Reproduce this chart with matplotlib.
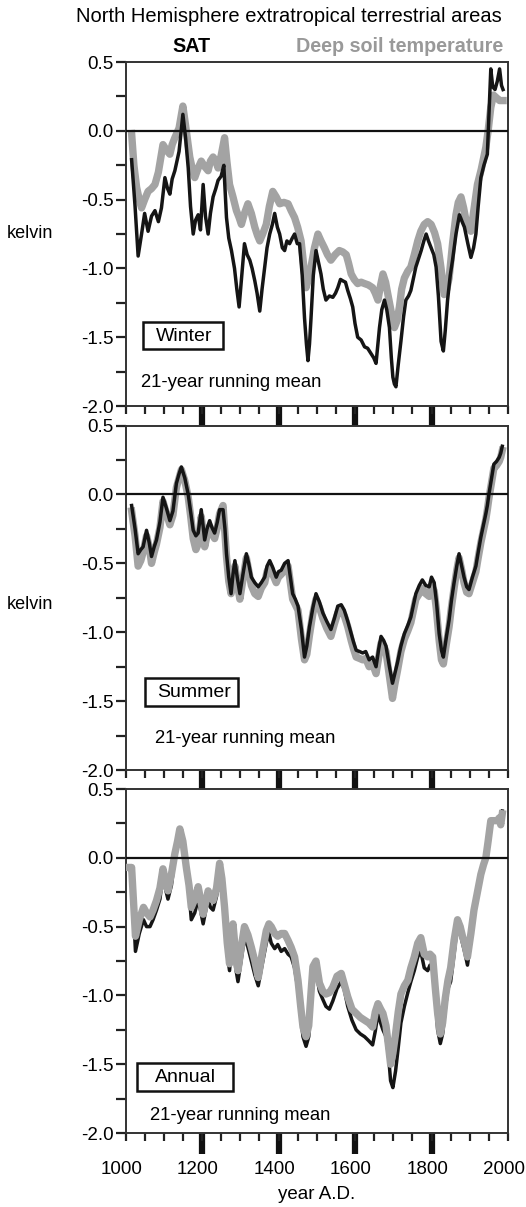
import matplotlib
matplotlib.use('Agg')
import matplotlib.pyplot as plt
import matplotlib.transforms as mtransforms
from matplotlib.patches import Rectangle
import numpy as np

plt.rcParams['font.family'] = ['Liberation Sans', 'DejaVu Sans']
plt.rcParams['axes.unicode_minus'] = False

# ---------------- Winter ----------------
win_sat_yr = [1016, 1025, 1033, 1042, 1050, 1059, 1068, 1077, 1086, 1094, 1103, 1110, 1116, 1122, 1129,
              1140, 1150, 1157, 1164, 1170, 1177, 1183, 1190, 1196, 1203, 1209, 1216, 1222, 1229, 1236,
              1242, 1250, 1257, 1264, 1270, 1277, 1285, 1291, 1297, 1304, 1311, 1318, 1325, 1331, 1338,
              1344, 1351, 1357, 1364, 1370, 1377, 1384, 1390, 1397, 1403, 1410, 1416, 1422, 1429, 1436,
              1442, 1449, 1455, 1462, 1468, 1473, 1477, 1481, 1485, 1491, 1498, 1504, 1511, 1517, 1524,
              1533, 1542, 1549, 1555, 1562, 1568, 1575, 1581, 1588, 1594, 1600, 1607, 1616, 1625, 1633,
              1642, 1649, 1655, 1660, 1664, 1670, 1677, 1683, 1690, 1695, 1699, 1703, 1707, 1713, 1720,
              1727, 1733, 1740, 1746, 1752, 1759, 1766, 1773, 1780, 1786, 1792, 1799, 1806, 1812, 1818,
              1825, 1831, 1836, 1842, 1849, 1855, 1864, 1873, 1880, 1886, 1895, 1903, 1910, 1916, 1922,
              1929, 1937, 1946, 1950, 1955, 1960, 1966, 1972, 1978, 1983, 1987]
win_sat = [-0.21, -0.55, -0.91, -0.75, -0.60, -0.73, -0.62, -0.58, -0.66, -0.56, -0.34, -0.42, -0.46, -0.35, -0.29,
           -0.15, 0.12, -0.05, -0.27, -0.55, -0.75, -0.65, -0.61, -0.72, -0.39, -0.62, -0.75, -0.60, -0.48, -0.42,
           -0.36, -0.33, -0.25, -0.63, -0.78, -0.87, -1.00, -1.15, -1.28, -1.05, -0.82, -0.90, -0.94, -1.00, -1.09,
           -1.18, -1.31, -1.15, -0.99, -0.85, -0.75, -0.68, -0.60, -0.70, -0.75, -0.85, -0.87, -0.80, -0.82, -0.78,
           -0.75, -0.82, -0.82, -1.05, -1.36, -1.55, -1.67, -1.55, -1.36, -1.05, -0.87, -0.95, -1.04, -1.15, -1.23,
           -1.20, -1.21, -1.18, -1.14, -1.08, -1.09, -1.10, -1.16, -1.22, -1.28, -1.40, -1.50, -1.52, -1.57, -1.58,
           -1.62, -1.65, -1.69, -1.55, -1.43, -1.30, -1.23, -1.30, -1.43, -1.65, -1.79, -1.84, -1.86, -1.70, -1.53,
           -1.35, -1.23, -1.20, -1.16, -1.08, -0.99, -0.93, -0.87, -0.80, -0.75, -0.80, -0.85, -0.90, -0.99, -1.20,
           -1.53, -1.60, -1.45, -1.23, -1.05, -0.94, -0.75, -0.61, -0.66, -0.70, -0.82, -0.92, -0.85, -0.75, -0.55,
           -0.34, -0.25, -0.17, 0.10, 0.45, 0.32, 0.30, 0.36, 0.45, 0.33, 0.30]

win_soil_yr = [1016, 1022, 1029, 1036, 1042, 1050, 1059, 1068, 1077, 1086, 1098, 1107, 1116, 1122, 1129,
               1140, 1150, 1158, 1168, 1175, 1181, 1190, 1198, 1207, 1216, 1222, 1229, 1236, 1242, 1250,
               1259, 1265, 1272, 1281, 1290, 1297, 1303, 1311, 1320, 1329, 1338, 1345, 1351, 1360, 1368,
               1376, 1385, 1394, 1403, 1414, 1425, 1433, 1442, 1450, 1459, 1466, 1472, 1478, 1485, 1494,
               1503, 1511, 1520, 1528, 1537, 1548, 1559, 1568, 1577, 1583, 1590, 1598, 1607, 1616, 1625,
               1635, 1646, 1653, 1660, 1667, 1673, 1680, 1686, 1695, 1703, 1710, 1716, 1722, 1729, 1738,
               1746, 1755, 1764, 1772, 1781, 1790, 1799, 1808, 1816, 1825, 1833, 1840, 1846, 1855, 1864,
               1870, 1877, 1884, 1890, 1897, 1903, 1912, 1920, 1930, 1942, 1948, 1955, 1962, 1970, 1978, 1987]
win_soil = [-0.02, -0.25, -0.41, -0.50, -0.56, -0.50, -0.44, -0.42, -0.39, -0.30, -0.10, -0.14, -0.17, -0.10, -0.05,
            0.02, 0.18, 0.02, -0.19, -0.28, -0.34, -0.27, -0.22, -0.26, -0.29, -0.22, -0.19, -0.22, -0.27, -0.18,
            -0.05, -0.22, -0.39, -0.48, -0.58, -0.63, -0.68, -0.60, -0.53, -0.60, -0.70, -0.76, -0.80, -0.74, -0.68,
            -0.55, -0.44, -0.48, -0.53, -0.52, -0.53, -0.58, -0.63, -0.70, -0.80, -0.98, -1.14, -1.08, -0.99, -0.85,
            -0.75, -0.80, -0.85, -0.90, -0.94, -0.90, -0.87, -0.88, -0.90, -0.96, -1.04, -1.08, -1.11, -1.10, -1.11,
            -1.12, -1.14, -1.18, -1.23, -1.12, -1.04, -1.10, -1.19, -1.32, -1.43, -1.38, -1.28, -1.15, -1.07, -1.02,
            -0.99, -0.90, -0.80, -0.73, -0.68, -0.66, -0.68, -0.74, -0.82, -1.00, -1.19, -1.15, -1.07, -0.82, -0.61,
            -0.52, -0.48, -0.56, -0.65, -0.70, -0.73, -0.55, -0.39, -0.28, -0.12, 0.00, 0.17, 0.26, 0.24, 0.22, 0.22]

# ---------------- Summer ----------------
sum_sat_yr = [1016, 1025, 1033, 1040, 1046, 1055, 1062, 1068, 1075, 1081, 1090, 1098, 1107, 1116, 1124,
              1133, 1140, 1146, 1155, 1164, 1170, 1177, 1184, 1190, 1198, 1207, 1213, 1220, 1226, 1233,
              1240, 1246, 1255, 1260, 1264, 1270, 1276, 1281, 1286, 1292, 1299, 1307, 1316, 1322, 1329,
              1338, 1347, 1355, 1364, 1370, 1377, 1385, 1394, 1400, 1407, 1416, 1425, 1431, 1437, 1444,
              1451, 1460, 1468, 1474, 1481, 1490, 1498, 1507, 1516, 1526, 1537, 1546, 1555, 1564, 1572,
              1581, 1590, 1596, 1603, 1612, 1620, 1628, 1637, 1646, 1655, 1662, 1668, 1675, 1681, 1690,
              1698, 1704, 1711, 1720, 1729, 1738, 1746, 1753, 1759, 1768, 1776, 1785, 1794, 1800, 1807,
              1813, 1820, 1826, 1831, 1838, 1846, 1852, 1859, 1866, 1872, 1879, 1885, 1892, 1898, 1907,
              1916, 1922, 1929, 1936, 1942, 1946, 1950, 1957, 1963, 1970, 1977, 1981, 1985]
sum_sat = [-0.08, -0.25, -0.43, -0.40, -0.38, -0.26, -0.35, -0.45, -0.38, -0.33, -0.20, -0.02, -0.10, -0.19, -0.12,
           0.08, 0.15, 0.20, 0.12, 0.00, -0.12, -0.26, -0.30, -0.28, -0.11, -0.33, -0.25, -0.19, -0.24, -0.28,
           -0.20, -0.11, -0.11, -0.25, -0.43, -0.60, -0.72, -0.58, -0.48, -0.60, -0.72, -0.58, -0.43, -0.50, -0.60,
           -0.64, -0.67, -0.64, -0.60, -0.52, -0.48, -0.53, -0.60, -0.56, -0.55, -0.50, -0.48, -0.60, -0.72, -0.76,
           -0.81, -0.98, -1.18, -1.10, -0.96, -0.82, -0.72, -0.78, -0.86, -0.92, -0.98, -0.90, -0.81, -0.80, -0.84,
           -0.92, -1.01, -1.07, -1.13, -1.14, -1.15, -1.14, -1.20, -1.18, -1.25, -1.12, -1.03, -1.06, -1.10, -1.25,
           -1.37, -1.30, -1.22, -1.10, -1.01, -0.95, -0.89, -0.80, -0.72, -0.66, -0.62, -0.66, -0.67, -0.60, -0.64,
           -0.78, -1.01, -1.13, -1.18, -1.05, -0.91, -0.77, -0.64, -0.52, -0.43, -0.52, -0.60, -0.67, -0.69, -0.60,
           -0.52, -0.42, -0.31, -0.22, -0.14, -0.08, 0.00, 0.12, 0.22, 0.24, 0.27, 0.30, 0.35]

sum_soil_yr = [1016, 1025, 1033, 1040, 1046, 1055, 1062, 1068, 1075, 1081, 1090, 1098, 1107, 1116, 1124,
               1133, 1140, 1146, 1155, 1164, 1170, 1177, 1184, 1190, 1198, 1207, 1213, 1220, 1226, 1233,
               1240, 1246, 1255, 1260, 1264, 1270, 1276, 1281, 1286, 1292, 1299, 1307, 1316, 1322, 1329,
               1338, 1347, 1355, 1364, 1370, 1377, 1385, 1394, 1400, 1407, 1416, 1425, 1431, 1437, 1444,
               1451, 1460, 1468, 1474, 1481, 1490, 1498, 1507, 1516, 1526, 1537, 1546, 1555, 1564, 1572,
               1581, 1590, 1596, 1603, 1612, 1620, 1628, 1637, 1646, 1655, 1662, 1668, 1675, 1681, 1690,
               1698, 1704, 1711, 1720, 1729, 1738, 1746, 1753, 1759, 1768, 1776, 1785, 1794, 1800, 1807,
               1813, 1820, 1826, 1831, 1838, 1846, 1852, 1859, 1866, 1872, 1879, 1885, 1892, 1898, 1907,
               1916, 1922, 1929, 1936, 1942, 1946, 1950, 1957, 1963, 1970, 1977, 1981, 1985]
sum_soil = [-0.12, -0.30, -0.52, -0.48, -0.42, -0.30, -0.38, -0.50, -0.42, -0.36, -0.24, -0.05, -0.14, -0.22, -0.15,
            0.05, 0.12, 0.18, 0.10, -0.02, -0.15, -0.32, -0.40, -0.36, -0.16, -0.38, -0.30, -0.23, -0.28, -0.32,
            -0.24, -0.14, -0.08, -0.28, -0.45, -0.63, -0.72, -0.62, -0.52, -0.64, -0.76, -0.62, -0.46, -0.55, -0.66,
            -0.72, -0.74, -0.68, -0.64, -0.56, -0.52, -0.58, -0.64, -0.60, -0.58, -0.55, -0.52, -0.64, -0.76, -0.80,
            -0.84, -1.05, -1.20, -1.16, -1.02, -0.86, -0.76, -0.82, -0.90, -0.97, -1.03, -0.94, -0.86, -0.84, -0.88,
            -0.96, -1.06, -1.12, -1.18, -1.19, -1.20, -1.19, -1.25, -1.23, -1.30, -1.18, -1.08, -1.10, -1.14, -1.32,
            -1.48, -1.38, -1.28, -1.14, -1.05, -0.99, -0.93, -0.84, -0.76, -0.72, -0.68, -0.72, -0.74, -0.66, -0.70,
            -0.84, -1.06, -1.20, -1.23, -1.10, -0.96, -0.82, -0.68, -0.55, -0.46, -0.55, -0.64, -0.71, -0.72, -0.64,
            -0.56, -0.46, -0.35, -0.26, -0.18, -0.11, -0.03, 0.09, 0.19, 0.21, 0.24, 0.27, 0.32]

# ---------------- Annual ----------------
ann_sat_yr = [1016, 1026, 1036, 1047, 1055, 1064, 1072, 1081, 1090, 1098, 1104, 1111, 1120, 1129, 1136,
              1142, 1150, 1159, 1166, 1172, 1181, 1190, 1196, 1203, 1210, 1216, 1222, 1229, 1238, 1246,
              1252, 1259, 1266, 1272, 1277, 1281, 1288, 1294, 1302, 1311, 1320, 1329, 1338, 1347, 1357,
              1368, 1375, 1381, 1390, 1398, 1407, 1416, 1425, 1433, 1442, 1451, 1458, 1464, 1472, 1479,
              1485, 1490, 1498, 1507, 1516, 1524, 1533, 1542, 1553, 1564, 1572, 1581, 1592, 1603, 1614,
              1625, 1636, 1646, 1653, 1660, 1667, 1673, 1681, 1688, 1693, 1699, 1706, 1713, 1720, 1729,
              1738, 1746, 1755, 1764, 1772, 1781, 1790, 1796, 1803, 1810, 1816, 1823, 1829, 1836, 1843,
              1850, 1859, 1868, 1875, 1881, 1888, 1894, 1903, 1911, 1920, 1929, 1936, 1942, 1948, 1955,
              1963, 1972, 1977, 1981, 1985]
ann_sat = [-0.10, -0.68, -0.55, -0.45, -0.50, -0.50, -0.45, -0.38, -0.30, -0.12, -0.22, -0.30, -0.20, 0.00, 0.10,
           0.19, 0.10, -0.10, -0.25, -0.45, -0.40, -0.30, -0.38, -0.48, -0.38, -0.30, -0.36, -0.38, -0.28, -0.10,
           -0.20, -0.42, -0.70, -0.82, -0.65, -0.55, -0.80, -0.90, -0.75, -0.58, -0.65, -0.75, -0.85, -0.93, -0.78,
           -0.62, -0.55, -0.62, -0.66, -0.63, -0.68, -0.66, -0.70, -0.72, -0.80, -0.96, -1.15, -1.30, -1.37, -1.30,
           -1.05, -0.86, -0.82, -0.97, -1.03, -1.08, -1.10, -1.04, -0.95, -0.90, -0.96, -1.08, -1.18, -1.25, -1.28,
           -1.30, -1.33, -1.36, -1.26, -1.13, -1.20, -1.25, -1.30, -1.45, -1.62, -1.67, -1.55, -1.38, -1.20, -1.08,
           -0.98, -0.90, -0.82, -0.72, -0.68, -0.80, -0.82, -0.78, -0.82, -1.00, -1.25, -1.35, -1.28, -1.10, -0.95,
           -0.90, -0.70, -0.48, -0.55, -0.62, -0.70, -0.78, -0.60, -0.42, -0.28, -0.12, -0.05, 0.00, 0.12, 0.25,
           0.28, 0.26, 0.30, 0.27, 0.34]

ann_soil_yr = [1008, 1016, 1026, 1036, 1047, 1055, 1064, 1072, 1081, 1090, 1098, 1104, 1111, 1120, 1129,
               1136, 1142, 1150, 1159, 1166, 1172, 1181, 1190, 1196, 1203, 1210, 1216, 1222, 1229, 1238,
               1246, 1252, 1259, 1266, 1272, 1277, 1281, 1288, 1294, 1302, 1311, 1320, 1329, 1338, 1347,
               1357, 1368, 1375, 1381, 1390, 1398, 1407, 1416, 1425, 1433, 1442, 1451, 1458, 1464, 1472,
               1479, 1485, 1490, 1498, 1507, 1516, 1524, 1533, 1542, 1553, 1564, 1572, 1581, 1592, 1603,
               1614, 1625, 1636, 1646, 1653, 1660, 1667, 1673, 1681, 1688, 1693, 1699, 1706, 1713, 1720,
               1729, 1738, 1746, 1755, 1764, 1772, 1781, 1790, 1796, 1803, 1810, 1816, 1823, 1829, 1836,
               1843, 1850, 1859, 1868, 1875, 1881, 1888, 1894, 1903, 1911, 1920, 1929, 1936, 1942, 1948,
               1955, 1963, 1972, 1977, 1981, 1985]
ann_soil = [-0.07, -0.07, -0.57, -0.45, -0.36, -0.40, -0.43, -0.38, -0.31, -0.22, -0.08, -0.16, -0.24, -0.12, 0.03,
            0.12, 0.21, 0.12, -0.07, -0.20, -0.36, -0.30, -0.21, -0.30, -0.41, -0.32, -0.24, -0.28, -0.31, -0.22,
            -0.04, -0.15, -0.36, -0.62, -0.77, -0.60, -0.48, -0.70, -0.82, -0.66, -0.50, -0.56, -0.65, -0.75, -0.87,
            -0.70, -0.53, -0.48, -0.50, -0.55, -0.57, -0.55, -0.55, -0.60, -0.65, -0.72, -0.89, -1.08, -1.23, -1.30,
            -1.22, -0.98, -0.79, -0.75, -0.91, -0.97, -0.99, -0.98, -0.94, -0.86, -0.84, -0.92, -1.01, -1.10, -1.13,
            -1.16, -1.18, -1.20, -1.23, -1.12, -1.06, -1.10, -1.13, -1.22, -1.38, -1.50, -1.42, -1.28, -1.12, -0.99,
            -0.93, -0.89, -0.80, -0.72, -0.62, -0.58, -0.70, -0.72, -0.70, -0.72, -0.95, -1.13, -1.28, -1.20, -1.02,
            -0.89, -0.80, -0.60, -0.45, -0.50, -0.57, -0.64, -0.72, -0.55, -0.38, -0.25, -0.12, -0.05, 0.00, 0.12,
            0.27, 0.27, 0.27, 0.29, 0.24, 0.32]

panels = [
    ('Winter', win_sat_yr, win_sat, win_soil_yr, win_soil, True),
    ('Summer', sum_sat_yr, sum_sat, sum_soil_yr, sum_soil, True),
    ('Annual', ann_sat_yr, ann_sat, ann_soil_yr, ann_soil, False),
]

# layout (figure fractions) and annotation placement (axes fractions)
axpos = [[0.2386, 0.6636, 0.7272, 0.2850],
         [0.2386, 0.3620, 0.7272, 0.2854],
         [0.2386, 0.0613, 0.7272, 0.2850]]
box_rect = [(0.046, 0.166, 0.209, 0.078), (0.051, 0.186, 0.244, 0.082), (0.029, 0.123, 0.253, 0.081)]
box_txt = [(0.153, 0.203), (0.178, 0.225), (0.156, 0.162)]
mean_xy = [(0.040, 0.067), (0.077, 0.093), (0.064, 0.052)]

soil_col = '#a3a3a3'
fig = plt.figure(figsize=(5.26, 12.07), dpi=100)

for i, (name, sy, sv, gy, gv, sat_top) in enumerate(panels):
    ax = fig.add_axes(axpos[i])
    z_sat, z_soil = (4, 3) if sat_top else (3, 4)
    ax.plot(gy, gv, color=soil_col, lw=5.3, zorder=z_soil)
    ax.plot(sy, sv, color='#151515', lw=2.5, zorder=z_sat)
    ax.axhline(0, color='#111111', lw=1.6, zorder=5)

    ax.set_xlim(1000, 2000)
    ax.set_ylim(-2.0, 0.5)
    yt = np.arange(-2.0, 0.51, 0.5)
    ax.set_yticks(yt)
    ax.set_yticklabels(['%.1f' % v for v in yt], fontsize=13.5)
    ax.set_yticks(np.arange(-2.0, 0.51, 0.25), minor=True)
    ax.tick_params(axis='y', which='both', direction='out', length=7, width=1.6, pad=1.5, color='#222222')

    # thin ticks every 50 years, labels every 200
    ax.set_xticks(np.arange(1000, 2001, 200))
    ax.set_xticks(np.arange(1000, 2001, 50), minor=True)
    ax.tick_params(axis='x', which='both', direction='out', length=6, width=1.6, pad=14,
                   color='#222222', labelsize=13.5)
    # thick ticks at the century marks 1200..1800
    sec = ax.secondary_xaxis('bottom')
    sec.set_xticks([1200, 1400, 1600, 1800])
    sec.tick_params(axis='x', direction='out', length=15, width=4.5, color='#111111', labelbottom=False)
    sec.spines['bottom'].set_visible(False)

    if i < 2:
        ax.set_xticklabels([])
    else:
        ax.set_xlabel('year A.D.', fontsize=13.5, labelpad=6)
        shift = mtransforms.ScaledTranslation(-4 / 100, 0, fig.dpi_scale_trans)
        for lab in ax.get_xticklabels():
            lab.set_transform(lab.get_transform() + shift)

    for s in ax.spines.values():
        s.set_linewidth(1.4)
        s.set_color('#333333')

    bx, by, bw, bh = box_rect[i]
    ax.add_patch(Rectangle((bx, by), bw, bh, transform=ax.transAxes, fill=True, fc='white',
                           ec='#111111', lw=1.8, zorder=6))
    ax.text(box_txt[i][0], box_txt[i][1], name, transform=ax.transAxes, fontsize=14,
            ha='center', va='center', zorder=7)
    ax.text(mean_xy[i][0], mean_xy[i][1], '21-year running mean', transform=ax.transAxes,
            fontsize=13.3, ha='left', va='center')

fig.text(30 / 526, 1 - 234 / 1207, 'kelvin', fontsize=13, ha='center', va='center')
fig.text(30 / 526, 1 - 604 / 1207, 'kelvin', fontsize=13, ha='center', va='center')
fig.text(288.5 / 526, 1 - 16 / 1207, 'North Hemisphere extratropical terrestrial areas',
         fontsize=14.5, ha='center', va='center')
fig.text(191 / 526, 1 - 46 / 1207, 'SAT', fontsize=14.2, fontweight='bold', ha='center', va='center')
fig.text(503 / 526, 1 - 46 / 1207, 'Deep soil temperature', fontsize=14.2, fontweight='bold',
         color='#999999', ha='right', va='center')

fig.savefig('out.png', dpi=100)
